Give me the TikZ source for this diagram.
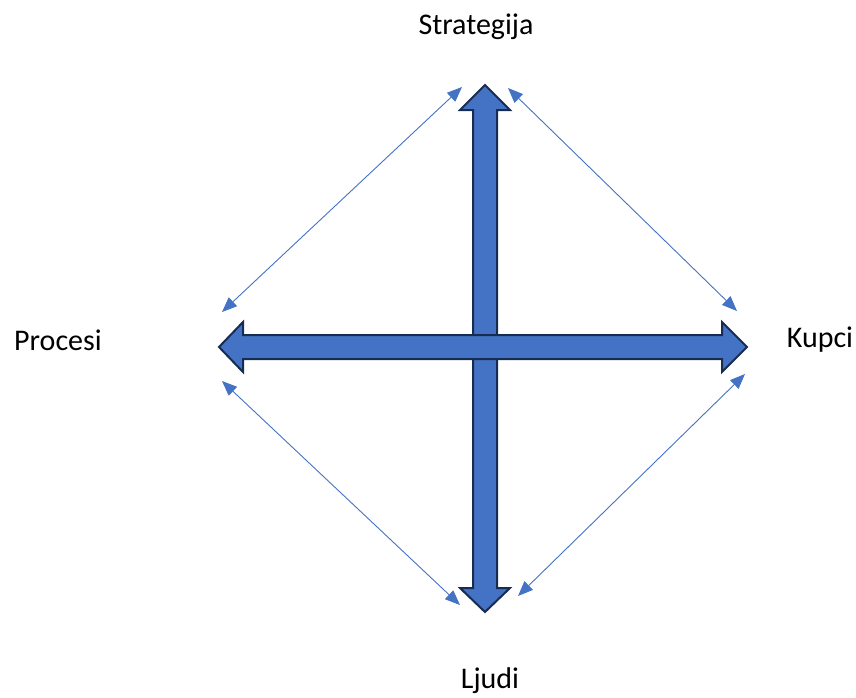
\documentclass[tikz,border=0pt]{standalone}
\usepackage{fontspec}
\setmainfont{Carlito}
\usepackage{xcolor}
\usetikzlibrary{arrows.meta}
\definecolor{plava}{HTML}{4472C4}
\definecolor{tamnoplava}{HTML}{172C51}

\begin{document}
\begin{tikzpicture}[
  x=1pt, y=-1pt,
  font=\fontsize{30}{36}\selectfont,
  strelica/.style={draw=tamnoplava, line width=2pt, fill=plava, line join=miter},
  veza/.style={{Triangle[length=15pt, width=12pt]}-{Triangle[length=15pt, width=12pt]}, plava, line width=0.9pt},
  oznaka/.style={anchor=base, inner sep=0pt},
]
\useasboundingbox (0,0) rectangle (856,697);

% --- Oznake ---
\node[oznaka] (strategija) at (476,34) {Strategija};
\node[oznaka] (procesi) at (58,350) {Procesi};
\node[oznaka] (kupci) at (820,347) {Kupci};
\node[oznaka] (ljudi) at (490,688) {Ljudi};

% --- Vertikalna strelica ---
\draw[strelica] (485,85) -- (510,110) -- (497,110) -- (497,588) -- (510,588)
  -- (485,612) -- (460,588) -- (473,588) -- (473,110) -- (460,110) -- cycle;

% --- Horizontalna strelica (iznad vertikalne) ---
\draw[strelica] (219,347) -- (243,322) -- (243,335) -- (722,335) -- (722,322)
  -- (747,347) -- (722,372) -- (722,359) -- (243,359) -- (243,372) -- cycle;

% --- Krajevi tankih veza ---
\coordinate (s1) at (462,87);
\coordinate (s2) at (508,88);
\coordinate (p1) at (222,312);
\coordinate (p2) at (222,381);
\coordinate (k1) at (737,311);
\coordinate (k2) at (745,374);
\coordinate (l1) at (460,605);
\coordinate (l2) at (518,596);

% --- Tanke veze ---
\draw[veza] (s1) -- (p1);
\draw[veza] (s2) -- (k1);
\draw[veza] (p2) -- (l1);
\draw[veza] (k2) -- (l2);

\end{tikzpicture}
\end{document}
